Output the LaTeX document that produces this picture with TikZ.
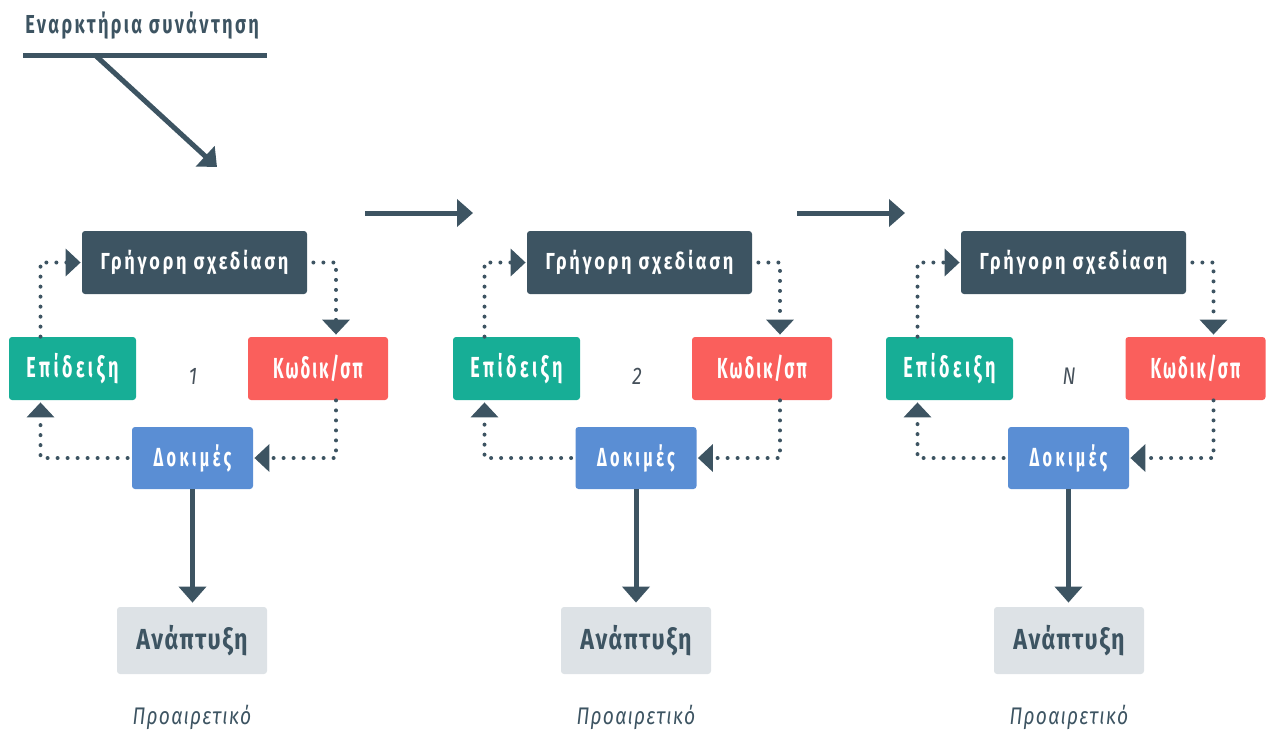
\documentclass[tikz,border=0pt]{standalone}
\usepackage{fontspec}
\setmainfont{Fira Sans}[FakeStretch=0.8, LetterSpace=5]
\newfontfamily\fgr{Fira Sans}[FakeStretch=0.78, LetterSpace=12]
\newfontfamily\fep{Fira Sans}[FakeStretch=0.62, LetterSpace=12]
\newfontfamily\fko{Fira Sans}[FakeStretch=0.58, LetterSpace=7]
\newfontfamily\fdo{Fira Sans}[FakeStretch=0.62, LetterSpace=13]
\newfontfamily\fti{Fira Sans}[FakeStretch=0.7, LetterSpace=9]
\usetikzlibrary{arrows.meta,calc}
\definecolor{slate}{HTML}{3D5462}
\definecolor{tealc}{HTML}{17AE96}
\definecolor{redc}{HTML}{FA5F5C}
\definecolor{bluec}{HTML}{5A8ED4}
\definecolor{greyc}{HTML}{DDE2E6}
\definecolor{labc}{HTML}{45505A}
\begin{document}
\begin{tikzpicture}[x=0.5pt,y=-0.5pt,
  box/.style={rectangle, rounded corners=1.5pt, inner sep=0pt, minimum height=31.5pt, text=white},
  gfont/.style={font=\fgr\bfseries\fontsize{11.6}{13}\selectfont},
  efont/.style={font=\fep\bfseries\fontsize{14.5}{16}\selectfont},
  kfont/.style={font=\fko\bfseries\fontsize{14.5}{16}\selectfont},
  dfont/.style={font=\fdo\bfseries\fontsize{13.1}{15}\selectfont},
  afont/.style={font=\bfseries\fontsize{14.5}{16}\selectfont},
  dotline/.style={draw=slate, line width=2pt, dash pattern=on 0pt off 5pt, line cap=round, -{Triangle[length=7.5pt,width=13.5pt]}},
  solidarrow/.style={draw=slate, line width=2.5pt, -{Triangle[length=8pt,width=13.5pt]}},
  numlab/.style={text=labc, font=\itshape\fontsize{12}{14}\selectfont},
  optlab/.style={text=slate, font=\itshape\fontsize{12}{14}\selectfont},
  titlelab/.style={text=slate, font=\fti\bfseries\fontsize{13}{15}\selectfont, inner sep=0pt}
]
\useasboundingbox (0,0) rectangle (1266,730);
% title and entry arrow
\node[titlelab, anchor=base west] (t) at (25,33) {Εναρκτήρια συνάντηση};
\coordinate (l1) at (23,55);
\coordinate (l2) at (267,55);
\coordinate (ds) at (95,55);
\coordinate (de) at (217,167);
\draw[slate, line width=2.5pt] (l1) -- (l2);
\draw[solidarrow] (ds) -- (de);
% arrows between cycles
\coordinate (h1s) at (365,213);
\coordinate (h1e) at (473,213);
\coordinate (h2s) at (797,213);
\coordinate (h2e) at (905,213);
\draw[solidarrow] (h1s) -- (h1e);
\draw[solidarrow] (h2s) -- (h2e);
% cycles
\foreach \i/\gx/\ex/\kx/\dx/\ax/\lab/\lx in {1/194.5/72.5/318/192.5/192/1/193, 2/639.5/516.5/762/636/636/2/637, 3/1073.5/949.5/1195.5/1068.5/1069/N/1069}{
  \node[box, gfont, fill=slate, minimum width=112.5pt] (g\i) at (\gx,262.5) {Γρήγορη σχεδίαση};
  \node[box, efont, fill=tealc, minimum width=63.5pt] (e\i) at (\ex,368.5) {Επίδειξη};
  \node[box, kfont, fill=redc, minimum width=70pt] (k\i) at (\kx,368.5) {Κωδικ/σπ};
  \node[box, dfont, fill=bluec, minimum width=60.5pt, minimum height=31pt] (d\i) at (\dx,458) {Δοκιμές};
  \node[box, afont, fill=greyc, text=slate, minimum width=75pt, minimum height=33.5pt] (a\i) at (\ax,640.5) {Ανάπτυξη};
  \node[numlab] (n\i) at (\lx,376) {\lab};
  \node[optlab] (p\i) at (\ax,717) {Προαιρετικό};
  \draw[dotline] ([xshift=3pt]g\i.east) -| ([xshift=9pt,yshift=1pt]k\i.north);
  \draw[dotline] ([xshift=9pt]k\i.south) |- ([xshift=0.5pt]d\i.east);
  \draw[dotline] ([xshift=-2pt]d\i.west) -| ([xshift=-16pt,yshift=-1pt]e\i.south);
  \draw[dotline] ([xshift=-16pt]e\i.north) |- ([xshift=-0.5pt]g\i.west);
  \draw[solidarrow] (d\i.south) -- ([yshift=2pt]d\i.south |- a\i.north);
}
\end{tikzpicture}
\end{document}
